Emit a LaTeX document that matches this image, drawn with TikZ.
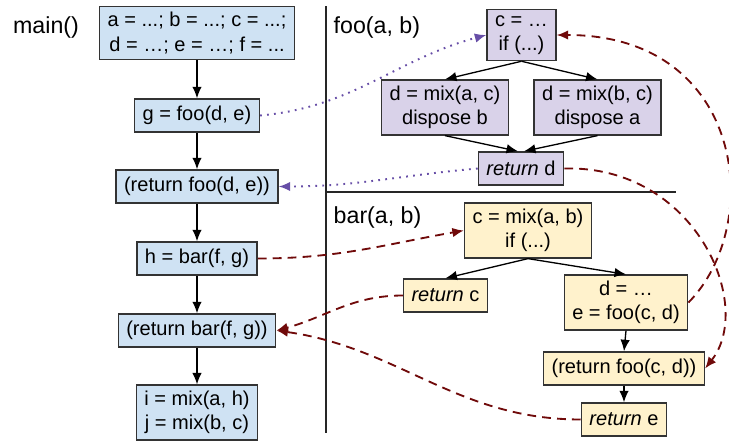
\documentclass[tikz,border=0pt]{standalone}
\usepackage{fontspec}
\setmainfont{Liberation Sans}
\usetikzlibrary{arrows.meta,positioning}

\definecolor{mainfill}{HTML}{CFE2F3}
\definecolor{foofill}{HTML}{D9D2E9}
\definecolor{barfill}{HTML}{FFF2CC}
\definecolor{callline}{HTML}{674EA7}
\definecolor{retline}{HTML}{700A0A}

\begin{document}
\begin{tikzpicture}[
>={Latex[length=2.3mm,width=1.9mm]},
every node/.style={font=\fontsize{11.4}{13.7}\selectfont},
block/.style={rectangle, draw=black!80, line width=0.85pt, align=center, inner xsep=0.16cm, inner ysep=0.12cm, minimum height=0.66cm},
mainblock/.style={block, fill=mainfill},
fooblock/.style={block, fill=foofill},
barblock/.style={block, fill=barfill},
fname/.style={font=\fontsize{13.2}{16}\selectfont},
flow/.style={->, line width=0.75pt},
callarrow/.style={->, callline, line width=1.1pt, dash pattern=on 1pt off 3pt},
retarrow/.style={->, retline, line width=1.05pt, dash pattern=on 5pt off 3.5pt},
]

\useasboundingbox (0,0) rectangle (14.58,-8.8);

\node at (0.92,-0.54) [fname](mainlabel){main()};
\node at (6.55,-0.54) [fname,anchor=west](foolabel){foo(a, b)};
\node at (6.55,-4.34) [fname,anchor=west](barlabel){bar(a, b)};

\draw[line width=0.9pt, black!85] (6.52,-0.12) -- (6.52,-8.66);
\draw[line width=0.9pt, black!85] (6.52,-3.84) -- (13.52,-3.84);

\node at (3.94,-0.66) [mainblock](init){a = ...; b = ...; c = ...;\\d = …; e = …; f = ...};
\node at (3.94,-2.31) [mainblock](callfoo){g = foo(d, e)};
\node at (3.94,-3.73) [mainblock](retfoo){(return foo(d, e))};
\node at (3.94,-5.17) [mainblock](callbar){h = bar(f, g)};
\node at (3.94,-6.61) [mainblock](retbar){(return bar(f, g))};
\node at (3.94,-8.25) [mainblock](mixes){i = mix(a, h)\\j = mix(b, c)};
\draw[flow] (init.south) -- (callfoo.north);
\draw[flow] (callfoo.south) -- (retfoo.north);
\draw[flow] (retfoo.south) -- (callbar.north);
\draw[flow] (callbar.south) -- (retbar.north);
\draw[flow] (retbar.south) -- (mixes.north);

\node at (10.43,-0.70) [fooblock](fooentry){c = …\\if (...)};
\node at (8.9,-2.15) [fooblock](foomixa){d = mix(a, c)\\dispose b};
\node at (11.95,-2.15) [fooblock](foomixb){d = mix(b, c)\\dispose a};
\node at (10.42,-3.37) [fooblock](fooret){\textit{return} d};
\draw[flow] (fooentry.south) -- (foomixa.north);
\draw[flow] (fooentry.south) -- (foomixb.north);
\draw[flow] (foomixa.south) -- ([xshift=-0.06cm]fooret.north);
\draw[flow] (foomixb.south) -- ([xshift=0.06cm]fooret.north);

\node at (10.56,-4.61) [barblock](barentry){c = mix(a, b)\\if (...)};
\node at (8.91,-5.91) [barblock](barretc){\textit{return} c};
\node at (12.52,-6.05) [barblock](barcall){d = …\\e = foo(c, d)};
\node at (12.48,-7.37) [barblock](barretfoo){(return foo(c, d))};
\node at (12.48,-8.39) [barblock](barrete){\textit{return} e};
\draw[flow] (barentry.south) -- (barretc.north);
\draw[flow] (barentry.south) -- (barcall.north);
\draw[flow] (barcall.south) -- (barretfoo.north);
\draw[flow] (barretfoo.south) -- (barrete.north);

\draw[callarrow] (callfoo.east) to[out=5,in=195] (fooentry.west);
\draw[callarrow] (fooret.west) to[out=185,in=0] (retfoo.east);

\draw[retarrow] (callbar.east) to[out=0,in=190] (barentry.west);
\draw[retarrow] (barretc.west) to[out=180,in=15] (retbar.east);
\draw[retarrow] (barrete.west) to[out=180,in=-8] (retbar.east);
\draw[retarrow] (barcall.east) .. controls (15.3,-4.5) and (14.9,-0.7) .. (fooentry.east);
\draw[retarrow] (fooret.east) .. controls (13.9,-3.3) and (15.1,-6.1) .. (barretfoo.east);

\end{tikzpicture}
\end{document}
